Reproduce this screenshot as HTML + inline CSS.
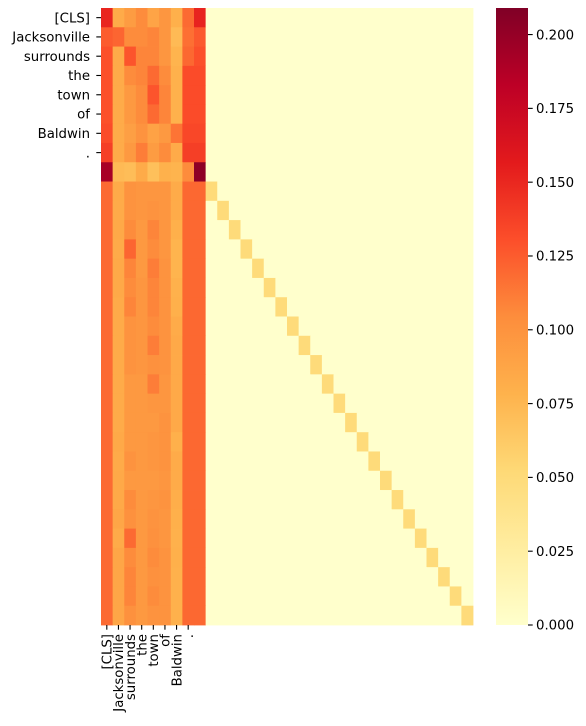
<!DOCTYPE html>
<html><head><meta charset="utf-8"><style>
html,body{margin:0;padding:0;background:#fff;}
svg{display:block;font-family:"DejaVu Sans","Liberation Sans",sans-serif;}
</style></head><body>
<svg id="chart" width="586" height="726" viewBox="0 0 586 726" xmlns="http://www.w3.org/2000/svg">
<defs><linearGradient id="cbg" x1="0" y1="1" x2="0" y2="0">
<stop offset="0" stop-color="#ffffcc"/><stop offset="0.125" stop-color="#ffeda0"/><stop offset="0.25" stop-color="#fed976"/><stop offset="0.375" stop-color="#feb24c"/><stop offset="0.5" stop-color="#fd8d3c"/><stop offset="0.625" stop-color="#fc4e2a"/><stop offset="0.75" stop-color="#e31a1c"/><stop offset="0.875" stop-color="#bd0026"/><stop offset="1" stop-color="#800026"/>
</linearGradient></defs>
<g id="cells"></g>
<g id="yticks"></g>
<g id="xticks"></g>
<rect x="496" y="8" width="32" height="617" fill="url(#cbg)"/>
<g id="cbticks"></g>
</svg>
<script>
const tokens = ["[CLS]","Jacksonville","surrounds","the","town","of","Baldwin","."];
const nCols = 32;
const nRows = 32;
const vmax = 0.209;
const diagValue = 0.05;
const cbTicks = [0,0.025,0.05,0.075,0.1,0.125,0.15,0.175,0.2];
const cbTickLabels = ["0.000","0.025","0.050","0.075","0.100","0.125","0.150","0.175","0.200"];
// first 9 columns of each row (attention values)
const rowVals = [
[0.151,0.083,0.094,0.105,0.088,0.098,0.080,0.119,0.152],
[0.125,0.121,0.105,0.105,0.108,0.098,0.073,0.117,0.126],
[0.130,0.083,0.128,0.108,0.108,0.098,0.077,0.120,0.130],
[0.130,0.083,0.105,0.108,0.119,0.105,0.079,0.132,0.132],
[0.130,0.083,0.096,0.105,0.128,0.108,0.079,0.132,0.132],
[0.130,0.083,0.096,0.105,0.119,0.108,0.079,0.132,0.132],
[0.132,0.083,0.092,0.100,0.090,0.096,0.115,0.134,0.134],
[0.138,0.083,0.096,0.111,0.094,0.105,0.083,0.138,0.138],
[0.192,0.073,0.071,0.083,0.069,0.079,0.077,0.105,0.203],
[0.119,0.083,0.100,0.098,0.098,0.098,0.083,0.120,0.120],
[0.119,0.083,0.100,0.098,0.100,0.098,0.083,0.120,0.120],
[0.119,0.085,0.105,0.096,0.108,0.098,0.080,0.120,0.120],
[0.119,0.083,0.121,0.096,0.105,0.098,0.077,0.120,0.120],
[0.119,0.085,0.108,0.096,0.111,0.100,0.077,0.120,0.120],
[0.119,0.085,0.105,0.098,0.108,0.100,0.079,0.120,0.120],
[0.119,0.083,0.108,0.098,0.108,0.100,0.080,0.120,0.120],
[0.119,0.083,0.100,0.098,0.105,0.100,0.083,0.120,0.120],
[0.119,0.083,0.100,0.098,0.111,0.100,0.085,0.120,0.120],
[0.119,0.083,0.100,0.098,0.102,0.100,0.085,0.120,0.120],
[0.119,0.083,0.096,0.096,0.111,0.098,0.085,0.120,0.120],
[0.119,0.083,0.096,0.096,0.098,0.098,0.085,0.120,0.120],
[0.119,0.083,0.096,0.096,0.096,0.100,0.085,0.120,0.120],
[0.119,0.085,0.096,0.096,0.098,0.100,0.080,0.120,0.120],
[0.119,0.083,0.100,0.096,0.098,0.100,0.083,0.120,0.120],
[0.119,0.085,0.096,0.096,0.096,0.098,0.083,0.120,0.120],
[0.119,0.085,0.105,0.096,0.098,0.100,0.081,0.120,0.120],
[0.119,0.087,0.102,0.096,0.100,0.098,0.080,0.120,0.120],
[0.119,0.083,0.119,0.096,0.102,0.098,0.079,0.120,0.120],
[0.119,0.087,0.105,0.096,0.105,0.100,0.080,0.120,0.120],
[0.119,0.087,0.108,0.096,0.102,0.100,0.079,0.120,0.120],
[0.119,0.087,0.108,0.096,0.105,0.100,0.079,0.120,0.120],
[0.119,0.087,0.102,0.096,0.100,0.100,0.079,0.120,0.120]
];
const stops=["#ffffcc","#ffeda0","#fed976","#feb24c","#fd8d3c","#fc4e2a","#e31a1c","#bd0026","#800026"];
function hex(h){return [1,3,5].map(i=>parseInt(h.substr(i,2),16));}
function color(v){
  let t=Math.max(0,Math.min(1,v/vmax))*(stops.length-1);
  let i=Math.min(stops.length-2,Math.floor(t)),f=t-i;
  let a=hex(stops[i]),b=hex(stops[i+1]);
  return "rgb("+a.map((c,k)=>Math.round(c+(b[k]-c)*f)).join(",")+")";
}
const X0=101,X1=473,Y0=8,Y1=625;
const cw=(X1-X0)/nCols, ch=(Y1-Y0)/nRows;
function xPos(c){return X0+c*cw;}
function yPos(r){return Y0+r*ch;}
function cbY(v){return Y1-(v/vmax)*(Y1-Y0);}
const NS="http://www.w3.org/2000/svg";
function mk(tag,attrs,parent){const e=document.createElementNS(NS,tag);for(const k in attrs)e.setAttribute(k,attrs[k]);parent.appendChild(e);return e;}
const cells=document.getElementById('cells');
for(let r=0;r<nRows;r++){
  for(let c=0;c<nCols;c++){
    let v=0;
    if(c<rowVals[r].length) v=rowVals[r][c];
    else if(r>=9 && c===r) v=diagValue;
    const e=mk('rect',{x:xPos(c).toFixed(2),y:yPos(r).toFixed(2),width:(cw+0.4).toFixed(2),height:(ch+0.4).toFixed(2),fill:color(v)},cells);
    
    
  }
}
const FS=13.3;
const yt=document.getElementById('yticks'), xt=document.getElementById('xticks');
tokens.forEach((t,i)=>{
  const y=yPos(i)+ch/2;
  mk('line',{x1:X0-4.7,x2:X0,y1:y,y2:y,stroke:'#000','stroke-width':1.1},yt);
  const tx=mk('text',{x:X0-11,y:y+4.7,'text-anchor':'end','font-size':FS,fill:'#000'},yt);
  tx.textContent=t;
  
  
  const x=xPos(i)+cw/2;
  mk('line',{x1:x,x2:x,y1:Y1,y2:Y1+4.7,stroke:'#000','stroke-width':1.1},xt);
  const tx2=mk('text',{x:x+4.7,y:Y1+9,'text-anchor':'end','font-size':FS,fill:'#000',transform:'rotate(-90 '+(x+4.7)+' '+(Y1+9)+')'},xt);
  tx2.textContent=t;
  
  
});
const cb=document.getElementById('cbticks');
cbTicks.forEach((v,i)=>{
  const y=cbY(v);
  mk('line',{x1:528,x2:532.7,y1:y,y2:y,stroke:'#000','stroke-width':1.1},cb);
  const tx=mk('text',{x:536,y:y+4.7,'font-size':FS,fill:'#000'},cb);
  tx.textContent=cbTickLabels[i];
  
  
});
</script>
</body></html>
